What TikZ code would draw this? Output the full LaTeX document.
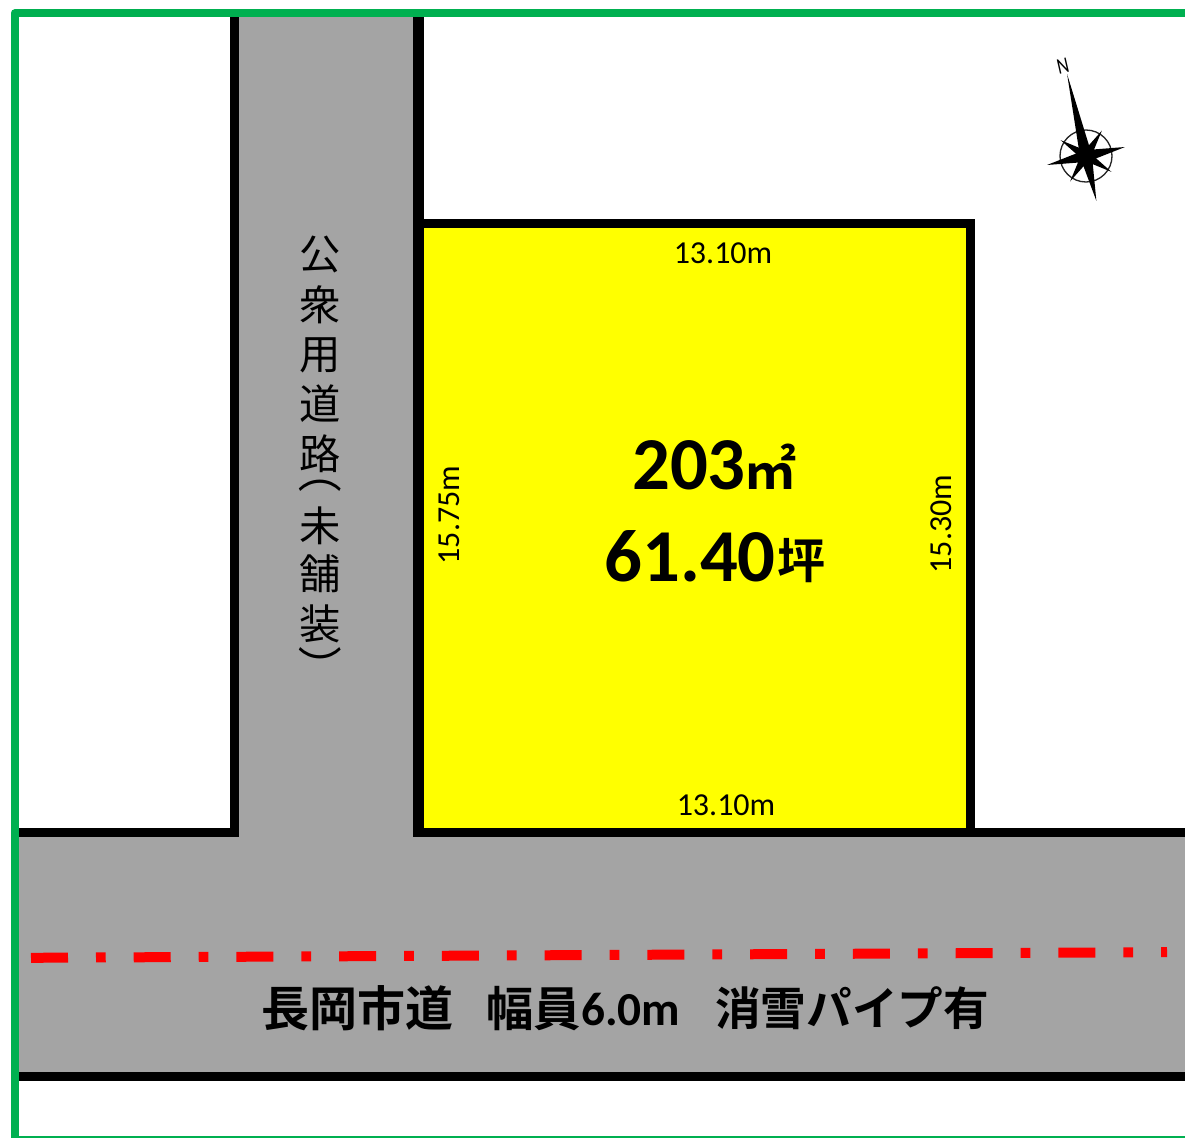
\documentclass[tikz,border=0pt]{standalone}
\usepackage{fontspec}
\setmainfont{Carlito}
\newfontfamily\jp{Noto Sans CJK JP}
\newfontfamily\jpb{Noto Sans CJK JP Bold}
\definecolor{roadgray}{HTML}{A4A4A4}
\definecolor{frame}{HTML}{00B050}
\definecolor{lotyellow}{HTML}{FFFF00}
\tikzset{
  edgeline/.style={draw=black,line width=6.75pt,line cap=butt,line join=miter},
  dimlabel/.style={inner sep=0pt,font=\fontsize{24}{26}\selectfont},
  vchar/.style={inner sep=0pt,font=\jp\fontsize{31}{33}\selectfont},
  vparen/.style={inner sep=0pt,rotate=-90,font=\jp\fontsize{33}{35}\selectfont},
  bigtext/.style={inner sep=0pt,font=\bfseries\fontsize{56}{58}\selectfont,anchor=base east},
  bigunit/.style={inner sep=0pt,font=\jpb\fontsize{36}{38}\selectfont,anchor=base west},
  roadtext/.style={inner sep=0pt,font=\jpb\fontsize{35.5}{38}\selectfont,anchor=base west},
}
\begin{document}
\begin{tikzpicture}[x=0.75pt,y=-0.75pt]
\useasboundingbox (0,0) rectangle (1185,1138);
% road
\fill[roadgray] (234,14) rectangle (418,830);
\fill[roadgray] (15,830) rectangle (1185,1076);
% lot
\fill[lotyellow] (418,224) rectangle (970,832);
% black boundary lines
\draw[edgeline] (234.5,14) -- (234.5,832.5) -- (15,832.5);
\draw[edgeline] (418,832.5) -- (1185,832.5);
\draw[edgeline,line width=8.25pt] (418.5,14) -- (418.5,837);
\draw[edgeline] (418,223.5) -- (970,223.5) -- (970,832);
\draw[edgeline] (15,1076) -- (1185,1076);
% green frame
\draw[frame,line width=6pt,line join=round] (1185,13.4) -- (14.7,13.4) -- (14.7,1138);
\draw[frame,line width=1.7pt] (15,1137) -- (1185,1137);
% centre line
\draw[red,line width=7.5pt,dash pattern=on 27.75pt off 21pt on 7.3pt off 21pt] (31,957.8) -- (1167,952.2);
% dimensions
\node[dimlabel] (top) at (723,253) {13.10m};
\node[dimlabel] (bot) at (726,805) {13.10m};
\node[dimlabel,rotate=90] (lft) at (449,515) {15.75m};
\node[dimlabel,rotate=90] (rgt) at (941,524) {15.30m};
% area
\node[bigtext] (area) at (746,489) {203};
\node[inner sep=0pt,font=\jpb\fontsize{39}{41}\selectfont,anchor=base west] (areau) at (744,489) {㎡};
\node[bigtext] (tsubo) at (776,581) {61.40};
\node[bigunit] (tsubou) at (777,578) {坪};
% side road name
\node[vchar] (c1) at (320,254) {公};
\node[vchar] (c2) at (320,305) {衆};
\node[vchar] (c3) at (320,355) {用};
\node[vchar] (c4) at (320,404) {道};
\node[vchar] (c5) at (320,454) {路};
\node[vparen] (c6) at (320,471) {（};
\node[vchar] (c7) at (320,526) {未};
\node[vchar] (c8) at (320,574) {舗};
\node[vchar] (c9) at (320,624) {装};
\node[vparen] (c10) at (320,667) {）};
% main road name
\node[roadtext,font=\jpb\fontsize{36}{38}\selectfont] (r1) at (261,1026) {長岡市道};
\node[roadtext] (r2) at (486,1026) {幅員};
\node[inner sep=0pt,font=\bfseries\fontsize{35.5}{37}\selectfont,anchor=base west] (r3) at (581,1025) {6.0m};
\node[roadtext,font=\jpb\fontsize{34.2}{36}\selectfont] (r4) at (715,1025) {消雪パイプ有};
% compass
\draw[line width=1pt,black!85] (1086,156) circle (26);
\begin{scope}[shift={(1086,156)},rotate=13]
  \foreach \a in {45,135,225,315}{
    \fill[black,rotate=\a] (0,-30) -- (5,0) -- (0,5) -- (-5,0) -- cycle;
  }
  \fill[black] (0,-84) -- (6,0) -- (0,6) -- (-6,0) -- cycle;
  \fill[black] (0,46) -- (6,0) -- (0,-6) -- (-6,0) -- cycle;
  \fill[black] (40,0) -- (0,6) -- (-6,0) -- (0,-6) -- cycle;
  \fill[black] (-40,0) -- (0,6) -- (6,0) -- (0,-6) -- cycle;
\end{scope}
\node[inner sep=0pt,rotate=13,xscale=0.8,font=\fontsize{17}{17}\selectfont] (north) at (1063,66) {N};
\end{tikzpicture}
\end{document}
